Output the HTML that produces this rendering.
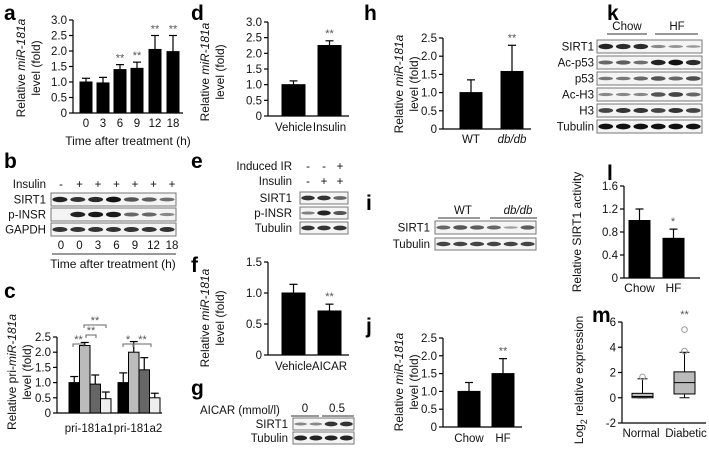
<!DOCTYPE html>
<html><head><meta charset="utf-8"><style>
html,body{margin:0;padding:0;background:#fff;}
svg{display:block;font-family:"Liberation Sans",Arial,sans-serif;}
.pl{font-weight:bold;font-size:21px;}
.tk{font-size:11.5px;fill:#111;}
.al{font-size:12px;fill:#111;}
.st{font-size:11px;fill:#555;}
</style></head><body>
<svg id="fig" width="709" height="451" viewBox="0 0 709 451"></svg>
<script>
// ---------- data ----------
const aCats=["0","3","6","9","12","18"];
const aVals=[1.0,0.97,1.4,1.44,2.05,1.98];
const aErr=[0.12,0.18,0.16,0.2,0.45,0.52];
const aStars=["","","**","**","**","**"];
const aTicks=[0,0.5,1.0,1.5,2.0,2.5,3.0];
const cGroups=["pri-181a1","pri-181a2"];
const cVals1=[1.0,2.22,0.95,0.47];
const cErr1=[0.2,0.1,0.3,0.22];
const cVals2=[1.0,2.0,1.42,0.5];
const cErr2=[0.32,0.35,0.4,0.15];
const cTicks=[0,0.5,1.0,1.5,2.0,2.5];
const dCats=["Vehicle","Insulin"];
const dVals=[1.0,2.25];
const dErr=[0.12,0.15];
const fCats=["Vehicle","AICAR"];
const fVals=[1.0,0.71];
const fErr=[0.14,0.11];
const fTicks=[0,0.5,1.0,1.5];
const hCats=["WT","db/db"];
const hVals=[1.0,1.58];
const hErr=[0.35,0.72];
const hTicks=[0,0.5,1.0,1.5,2.0,2.5];
const jCats=["Chow","HF"];
const jVals=[1.0,1.5];
const jErr=[0.25,0.42];
const lCats=["Chow","HF"];
const lVals=[1.0,0.69];
const lErr=[0.2,0.16];
const lTicks=[0,0.4,0.8,1.2,1.6];
const mCats=["Normal","Diabetic"];
const mQ1=[0,0.3];const mMed=[0.1,1.2];const mQ3=[0.35,2.05];
const mLo=[0,0];const mHi=[1.5,3.6];
const mOut=[[1.65],[3.7,5.4]];
const mTicks=[-2,0,2,4,6];
// ---------- helpers ----------
const S=document.getElementById('fig');const NS="http://www.w3.org/2000/svg";
function el(t,a,txt,p){const e=document.createElementNS(NS,t);for(const k in a)e.setAttribute(k,a[k]);if(txt!=null)e.textContent=txt;(p||S).appendChild(e);return e;}
function line(x1,y1,x2,y2,c,w){return el('line',{x1,y1,x2,y2,stroke:c||'#000','stroke-width':w||1.2});}
function txt(x,y,s,cls,anchor,extra){const a=Object.assign({x,y,class:cls,'text-anchor':anchor||'middle'},extra||{});return el('text',a,s);}
function axisY(x0,yTop,yBot,max,min,ticks){
  const sc=v=>yBot-(v-min)/(max-min)*(yBot-yTop);
  line(x0,sc(max),x0,sc(min));
  ticks.forEach(t=>{line(x0-4,sc(t),x0,sc(t));const l=txt(x0-6,sc(t)+4,t===0?'0':(Number.isInteger(t)&&max<=6&&max>3?String(t):t.toFixed(1)),'tk','end');});
  return sc;
}
function bar(x,w,v,e,sc,fill,name){
  const r=el('rect',{x,y:sc(v),width:w,height:sc(0)-sc(v),fill:fill||'#000',stroke:'#000','stroke-width':1});
  
  
  const cx=x+w/2;line(cx,sc(v),cx,sc(v+e));line(cx-4,sc(v+e),cx+4,sc(v+e));
}
function yLabel(x,y,lines){
  const t=el('text',{x:0,y:0,class:'al','text-anchor':'middle',transform:`translate(${x},${y}) rotate(-90)`});
  
  
  lines.forEach((ln,i)=>{const ts=el('tspan',{x:0,dy:i?15:0},null,t);ln.forEach(seg=>{el('tspan',seg[1]?{'font-style':'italic'}:{},seg[0],ts);});});
}
function letter(x,y,s){const t=txt(x,y,s,'pl','start');}
const MIR=[[["Relative "],["miR-181a",1]],[["level (fold)"]]];
function twoBar(cats,vals,errs,x0,yTop,yBot,max,ticks,bx,bw,lblY,stars,italic2){
  const sc=axisY(x0,yTop,yBot,max,0,ticks);
  line(x0,yBot,bx[1]+bw+8,yBot);
  cats.forEach((c,i)=>{bar(bx[i],bw,vals[i],errs[i],sc,'#000','bar-'+c.toLowerCase().replace('/',''));
    const ex=Object.assign({'font-size':'10.5px'},(italic2&&i==1)?{'font-style':'italic'}:{});
    const t=txt(bx[i]+bw/2,lblY,c,'tk','middle',ex);
    
    if(stars[i])txt(bx[i]+bw/2,sc(vals[i]+errs[i])-4,stars[i],'st');});
}
function blot(x,y,w,h,lanes,ints,label,lx){
  const g=el('g',{});
  el('rect',{x,y,width:w,height:h,fill:'#f4f4f4',stroke:'#777','stroke-width':1},null,g);
  const lw=w/lanes;
  ints.forEach((v,i)=>{if(v>0)el('ellipse',{cx:x+lw*(i+0.5),cy:y+h/2,rx:lw*0.42,ry:Math.max(1.2,h*0.22*Math.sqrt(v)),fill:'#111','fill-opacity':Math.min(1,0.25+0.75*v)},null,g);});
  txt(lx,y+h/2+4,label,'tk','end');
}
// ---------- panel a ----------
letter(4,20,'a');
{const sc=axisY(73,20,113,3,0,aTicks);line(73,113,183,113);
 const bx=[80,97,114,131,149,167];
 aCats.forEach((c,i)=>{bar(bx[i],12,aVals[i],aErr[i],sc,'#000','bar-'+c+'h');txt(bx[i]+6,127,c,'tk');if(aStars[i])txt(bx[i]+6,sc(aVals[i]+aErr[i])-3,aStars[i],'st');});
 txt(128,145,'Time after treatment (h)','al');
 yLabel(25,68,MIR);}
// ---------- panel b ----------
letter(4,168,'b');
txt(46,188,'Insulin','tk','end');
['-','+','+','+','+','+','+'].forEach((s,i)=>txt(61+18.5*i,188,s,'tk'));
blot(51,193,125,13,7,[0.9,0.8,0.85,1,0.6,0.55,0.45],'SIRT1',46);
blot(51,208,125,13,7,[0,0.9,0.95,0.95,0.5,0.5,0.3],'p-INSR',46);
blot(51,223,125,13,7,[0.8,0.8,0.8,0.8,0.8,0.8,0.8],'GAPDH',46);
['0','0','3','6','9','12','18'].forEach((s,i)=>txt(61+18.5*i,249,s,'tk'));
line(52,254,176,254,'#333',1);
txt(113,268,'Time after treatment (h)','al');
// ---------- panel c ----------
letter(4,298,'c');
{const sc=axisY(57,337,413,2.5,0,cTicks);line(57,413,162,413);
 const fills=['#000','#bbb','#666','#eee'];
 [[cVals1,cErr1,69],[cVals2,cErr2,118]].forEach((g,gi)=>{g[0].forEach((v,i)=>bar(g[2]+i*10.5,10.5,v,g[1][i],sc,fills[i],'bar-'+cGroups[gi]+'-'+i));txt(g[2]+20,432,cGroups[gi],'tk',undefined,{'font-size':'10.5px'});});
 const br=(x1,x2,y,s)=>{el('path',{d:`M${x1},${y+3}V${y}H${x2}V${y+3}`,fill:'none',stroke:'#666','stroke-width':1});txt((x1+x2)/2,y-1,s,'st');};
 br(73,84,344,'**');br(86,96,335,'**');br(84,106,325,'**');br(123,133,344,'*');br(134,151,344,'**');
 yLabel(16,372,[[["Relative pri-"],["miR-181a",1]],[["level (fold)"]]]);}
// ---------- panel d ----------
letter(191,20,'d');
twoBar(dCats,dVals,dErr,268,22,116,3,aTicks,[282,318],23,131,['','**']);
yLabel(209,72,MIR);
// ---------- panel e ----------
letter(191,168,'e');
txt(292,170,'Induced IR','tk','end');txt(292,185,'Insulin','tk','end');
['-','-','+'].forEach((s,i)=>txt(308+16*i,170,s,'tk'));
['-','+','+'].forEach((s,i)=>txt(308+16*i,185,s,'tk'));
blot(300,192,48,12,3,[0.8,0.8,0.5],'SIRT1',292);
blot(300,207,48,12,3,[0.35,0.9,0.6],'p-INSR',292);
blot(300,222,48,12,3,[0.8,0.8,0.8],'Tubulin',292);
// ---------- panel f ----------
letter(191,272,'f');
twoBar(fCats,fVals,fErr,268,262,355,1.5,fTicks,[282,318],23,370,['','**']);
yLabel(209,318,MIR);
// ---------- panel g ----------
letter(191,395,'g');
txt(200,414,'AICAR (mmol/l)','tk','start');
txt(305,412,'0','tk');txt(337,412,'0.5','tk');
line(291,416,319,416,'#333',1);line(322,416,354,416,'#333',1);
blot(293,418,61,12,4,[0.3,0.3,0.8,0.8],'SIRT1',288);
blot(293,432,61,12,4,[0.9,0.9,0.9,0.9],'Tubulin',288);
// ---------- panel h ----------
letter(364,20,'h');
twoBar(hCats,hVals,hErr,443,38,129,2.5,hTicks,[460,501],22,143,['','**'],true);
yLabel(403,84,MIR);
// ---------- panel i ----------
letter(366,210,'i');
txt(463,214,'WT','tk');txt(518,214,'db/db','tk','middle',{'font-style':'italic'});
line(438,218,480,218,'#333',1);line(490,218,537,218,'#333',1);
blot(435,221,101,13,6,[0.5,0.6,0.55,0.5,0.15,0.55],'SIRT1',430);
blot(435,238,101,12,6,[0.7,0.7,0.7,0.7,0.7,0.7],'Tubulin',430);
// ---------- panel j ----------
letter(366,333,'j');
twoBar(jCats,jVals,jErr,443,338,427,2.5,hTicks,[458,492],22,442,['','**']);
yLabel(403,382,MIR);
// ---------- panel k ----------
letter(607,20,'k');
txt(627,30,'Chow','tk');txt(677,30,'HF','tk');
line(607,34,647,34,'#333',1);line(655,34,698,34,'#333',1);
const kRows=[['SIRT1',[0.9,0.85,0.85,0.3,0.25,0.2]],['Ac-p53',[0.5,0.55,0.45,0.9,1,0.85]],['p53',[0.4,0.4,0.5,0.6,0.5,0.65]],['Ac-H3',[0.3,0.3,0.3,0.6,0.7,0.5]],['H3',[0.7,0.8,0.8,0.7,0.8,0.7]],['Tubulin',[1,1,1,1,1,1]]];
kRows.forEach((r,i)=>blot(597,40+16*i,105,13,6,r[1],r[0],594));
// ---------- panel l ----------
letter(607,180,'l');
{const sc=axisY(624,186,278,1.6,0,lTicks);line(624,278,700,278);
 lCats.forEach((c,i)=>{const x=[629,663][i];bar(x,21,lVals[i],lErr[i],sc,'#000','bar-l-'+c.toLowerCase());txt(x+10.5,292,c,'al');});
 txt(673,sc(lVals[1]+lErr[1])-4,'*','st');
 yLabel(581,232,[[["Relative SIRT1 activity"]]]);}
// ---------- panel m ----------
letter(592,322,'m');
{const sc=axisY(622,322,423,6,-2,mTicks);line(622,423,706,423);
 const bx=[632,674];
 mCats.forEach((c,i)=>{const x=bx[i],w=21,cx=x+w/2;
  line(cx,sc(mHi[i]),cx,sc(mLo[i]),'#000',1);line(cx-5,sc(mHi[i]),cx+5,sc(mHi[i]),'#000',1);line(cx-5,sc(mLo[i]),cx+5,sc(mLo[i]),'#000',1);
  const r=el('rect',{x,y:sc(mQ3[i]),width:w,height:sc(mQ1[i])-sc(mQ3[i]),fill:'#bbb',stroke:'#000','stroke-width':1});
  
  
  line(x,sc(mMed[i]),x+w,sc(mMed[i]),'#000',1);
  mOut[i].forEach(o=>el('circle',{cx,cy:sc(o),r:2.8,fill:'none',stroke:'#999','stroke-width':1}));
  });
 txt(641,437,mCats[0],'tk');txt(686,437,mCats[1],'tk');
 txt(bx[1]+10.5,318,'**','st');
 const t=el('text',{x:0,y:0,class:'al','text-anchor':'middle',transform:'translate(583,380) rotate(-90)'});
 
 
 el('tspan',{},'Log',t);el('tspan',{dy:4,'font-size':'9px'},'2',t);el('tspan',{dy:-4},' relative expression',t);}
</script>
</body></html>
